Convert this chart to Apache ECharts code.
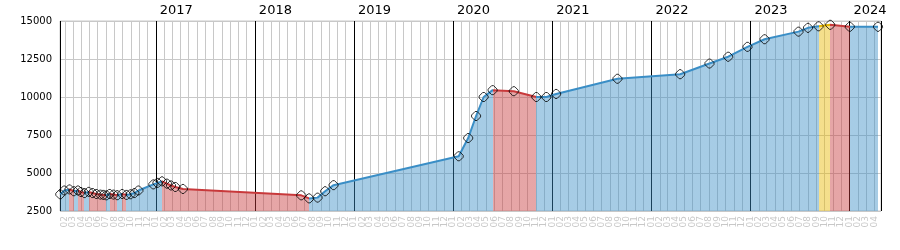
<!DOCTYPE html>
<html>
<head>
<meta charset="utf-8">
<script src="https://cdn.jsdelivr.net/npm/echarts@6/dist/echarts.min.js"></script>
<style>html,body{margin:0;padding:0;background:#fff}#c{width:900px;height:250px}</style>
</head>
<body>
<div id="c"></div>
<script>
const dates = ['2016-01-15','2016-01-30','2016-02-18','2016-03-05','2016-03-20','2016-03-31','2016-04-13','2016-04-29','2016-05-13','2016-05-27','2016-06-11','2016-06-22','2016-07-03','2016-07-15','2016-07-29','2016-08-12','2016-08-30','2016-09-15','2016-09-30','2016-10-14','2016-10-29','2016-12-23','2017-01-07','2017-01-24','2017-02-11','2017-02-26','2017-03-14','2017-04-11','2018-06-21','2018-07-20','2018-08-20','2018-09-17','2018-10-18','2020-01-22','2020-02-26','2020-03-26','2020-04-23','2020-05-26','2020-08-12','2020-11-03','2020-12-10','2021-01-15','2021-08-29','2022-04-17','2022-08-03','2022-10-11','2022-12-21','2023-02-22','2023-06-27','2023-08-01','2023-09-09','2023-10-22','2024-01-02','2024-04-15'];
const values = [3600,3850,3920,3800,3850,3750,3680,3760,3680,3620,3580,3560,3530,3620,3580,3540,3620,3560,3600,3680,3850,4250,4350,4450,4300,4180,4080,3950,3530,3330,3380,3800,4200,6100,7300,8750,10000,10450,10380,10000,10000,10200,11200,11500,12200,12650,13300,13800,14300,14550,14650,14750,14620,14620];
const highlightSegmentStarts = ['2023-09-09'];
const axisStart = '2016-01-14';
const axisEnd = '2024-04-26';
const yTicks = [2500, 5000, 7500, 10000, 12500, 15000];

const BLUE = '#3a8ec6', RED = '#c8393b', YELLOW = '#e8b800';
const FONT = 'DejaVu Sans';
const DAY = 86400000;

const ts = dates.map(d => echarts.time.parse(d).getTime());
const data = ts.map((t, i) => [t, values[i]]);
const hl = new Set(highlightSegmentStarts.map(d => echarts.time.parse(d).getTime()));

const pieces = [];
for (let i = 0; i < ts.length - 1; i++) {
  let color = values[i + 1] < values[i] ? RED : BLUE;
  if (hl.has(ts[i])) color = YELLOW;
  const p = { gte: ts[i], color: color };
  if (i < ts.length - 2) p.lt = ts[i + 1]; else p.lte = ts[i + 1] + 400 * DAY;
  pieces.push(p);
}
pieces.unshift({ lt: ts[0], color: BLUE });

const pad = n => (n < 10 ? '0' : '') + n;

const chart = echarts.init(document.getElementById('c'), null, { renderer: 'canvas' });
chart.setOption({
  animation: false,
  grid: { left: 60, right: 19, top: 21, bottom: 39, show: true, borderColor: '#c8c8c8', borderWidth: 1 },
  visualMap: { type: 'piecewise', show: false, dimension: 0, seriesIndex: 0, pieces: pieces },
  xAxis: [
    {
      type: 'time', min: axisStart, max: axisEnd, position: 'bottom',
      minInterval: 28 * DAY, maxInterval: 31 * DAY,
      axisLine: { show: false }, axisTick: { show: false },
      splitLine: { show: true, lineStyle: { color: '#c8c8c8', width: 1 } },
      axisLabel: {
        rotate: 90, fontSize: 9, fontFamily: FONT, color: '#c8c8c8', margin: 5,
        showMinLabel: false, showMaxLabel: false, hideOverlap: false,
        formatter: v => pad(new Date(v).getMonth() + 1)
      }
    },
    {
      type: 'time', min: axisStart, max: axisEnd, position: 'top', z: 1,
      minInterval: 360 * DAY, maxInterval: 367 * DAY,
      axisLine: { show: false }, axisTick: { show: false },
      splitLine: { show: true, lineStyle: { color: '#000', width: 1 } },
      axisLabel: {
        fontSize: 13, fontFamily: FONT, color: '#000', margin: 4, align: 'left', padding: [0, 0, 0, 4],
        showMinLabel: false, showMaxLabel: false,
        formatter: v => String(new Date(v).getFullYear())
      }
    }
  ],
  yAxis: {
    type: 'value', min: yTicks[0], max: yTicks[yTicks.length - 1], interval: 2500,
    axisLine: { show: false }, axisTick: { show: false },
    splitLine: { lineStyle: { color: '#c8c8c8', width: 1 } },
    axisLabel: { fontSize: 10, fontFamily: FONT, color: '#000', margin: 8, formatter: v => String(v) }
  },
  series: [
    {
      type: 'line', data: data, showSymbol: false, symbol: 'none',
      lineStyle: { width: 2 },
      areaStyle: { opacity: 0.45, origin: 'start' },
      z: 2
    },
    {
      type: 'scatter', data: data, z: 4,
      symbol: 'path://M3.5,0 L5.5,0 L9,3.5 L9,5.5 L5.5,9 L3.5,9 L0,5.5 L0,3.5 Z',
      symbolSize: [9, 9],
      itemStyle: { color: 'rgba(255,255,255,0)', borderColor: '#000', borderWidth: 1 }
    }
  ]
});
</script>
</body>
</html>
